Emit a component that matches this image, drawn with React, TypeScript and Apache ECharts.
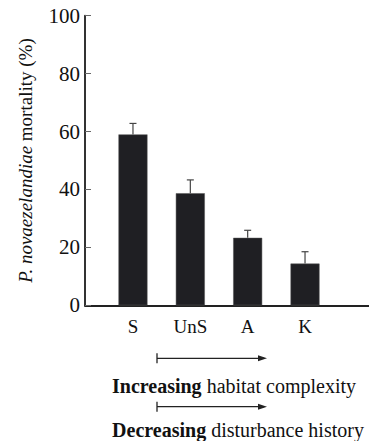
import React, { useEffect, useRef } from "react";
import * as echarts from "echarts";

const categories = ["S", "UnS", "A", "K"];
const mortality = [59.0, 38.7, 23.3, 14.4];
const errorUpper = [3.8, 4.6, 2.6, 4.1];
const yTicks = [0, 20, 40, 60, 80, 100];

const FONT = "'Liberation Serif', 'Times New Roman', serif";

export default function App() {
  const ref = useRef<HTMLDivElement>(null);
  useEffect(() => {
    const chart = echarts.init(ref.current!, null, { renderer: "svg" });
    const top = 15.7;
    const bottom = 441 - 305.3;
    const errData = categories.map((c, i) => [i, mortality[i], mortality[i] + errorUpper[i]]);
    const arrow = (y: number) => [
      { type: "line", shape: { x1: 157, y1: y, x2: 264, y2: y }, style: { stroke: "#222", lineWidth: 1.3 } },
      { type: "line", shape: { x1: 157, y1: y - 5, x2: 157, y2: y + 5 }, style: { stroke: "#222", lineWidth: 1.3 } },
      { type: "polygon", shape: { points: [[258, y - 3], [267, y], [258, y + 3]] }, style: { fill: "#222" } },
    ];
    chart.setOption({
      animation: false,
      grid: [
        { left: 85, right: 0, top, bottom },
        { left: 104.3, right: 35.3, top, bottom },
      ],
      xAxis: [
        {
          gridIndex: 0, type: "value", min: 0, max: 1,
          axisLine: { show: true, lineStyle: { color: "#222", width: 2 } },
          axisTick: { show: false }, axisLabel: { show: false }, splitLine: { show: false },
        },
        {
          gridIndex: 1, type: "category", data: categories,
          axisLine: { show: false }, axisTick: { show: false },
          axisLabel: { margin: 12, fontFamily: FONT, fontSize: 19, color: "#111" },
        },
      ],
      yAxis: [
        {
          gridIndex: 0, type: "value", min: 0, max: 100, interval: 20,
          axisLine: { show: true, lineStyle: { color: "#333", width: 2 } },
          axisTick: { show: true, inside: true, length: 6, lineStyle: { color: "#666", width: 1 } },
          axisLabel: { margin: 5, fontFamily: FONT, fontSize: 21, color: "#111" },
          splitLine: { show: false },
          name: "{i|P. novaezelandiae} mortality (%)",
          nameLocation: "middle",
          nameGap: 50,
          nameTextStyle: {
            fontFamily: FONT, fontSize: 19, color: "#111",
            rich: { i: { fontStyle: "italic", fontFamily: FONT, fontSize: 19, color: "#111" } },
          },
        },
        {
          gridIndex: 1, type: "value", min: 0, max: 100, show: false, splitLine: { show: false },
        },
      ],
      series: [
        {
          type: "bar", xAxisIndex: 1, yAxisIndex: 1, data: mortality, barWidth: 29,
          itemStyle: { color: "#1f1f23", borderColor: "#555", borderWidth: 0.5 },
          z: 3,
        },
        {
          type: "custom", xAxisIndex: 1, yAxisIndex: 1, data: errData, z: 2,
          renderItem: (params: any, api: any) => {
            const base = api.coord([api.value(0), api.value(1)]);
            const hi = api.coord([api.value(0), api.value(2)]);
            const x = base[0];
            return {
              type: "group",
              children: [
                { type: "line", shape: { x1: x, y1: base[1], x2: x, y2: hi[1] }, style: { stroke: "#444", lineWidth: 1.2 } },
                { type: "line", shape: { x1: x - 3.5, y1: hi[1], x2: x + 3.5, y2: hi[1] }, style: { stroke: "#444", lineWidth: 1.2 } },
              ],
            };
          },
        },
      ],
      graphic: [
        ...arrow(358.3),
        ...arrow(406.7),
        {
          type: "text", x: 234, y: 386,
          style: {
            text: "{b|Increasing} habitat complexity",
            align: "center", verticalAlign: "middle",
            font: `20px ${FONT}`, fill: "#111",
            rich: { b: { fontWeight: "bold", fontFamily: FONT, fontSize: 20, fill: "#111" } },
          },
        },
        {
          type: "text", x: 238, y: 429.5,
          style: {
            text: "{b|Decreasing} disturbance history",
            align: "center", verticalAlign: "middle",
            font: `20px ${FONT}`, fill: "#111",
            rich: { b: { fontWeight: "bold", fontFamily: FONT, fontSize: 20, fill: "#111" } },
          },
        },
      ],
    });
    return () => chart.dispose();
  }, []);
  return (
    <div
      ref={ref}
      style={{ position: "fixed", left: 0, top: 0, width: 369, height: 441, background: "#fff" }}
    />
  );
}
